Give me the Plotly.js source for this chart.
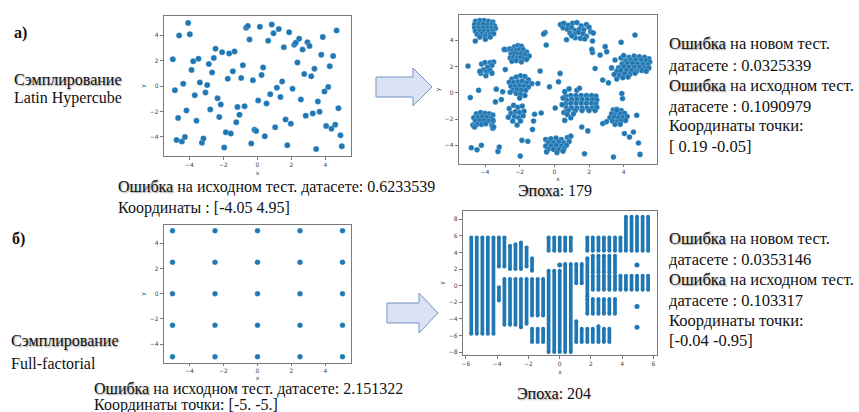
<!DOCTYPE html>
<html><head><meta charset="utf-8">
<script src="https://cdn.plot.ly/plotly-3.0.1.min.js"></script>
<style>html,body{margin:0;padding:0;background:#fff}#chart{width:859px;height:412px}</style>
</head><body><div id="chart"></div>
<script>
// ---------- DATA ----------
// a) Latin Hypercube initial sample (x, y)
const lhsPoints = [
[-4.98,2.10],[-4.86,-0.33],[-4.76,-4.24],[-4.61,3.96],[-4.67,-2.52],[-4.45,-4.37],[-4.37,0.17],[-4.27,-4.0],[-4.18,-1.92],[-4.08,4.95],
[-3.98,4.07],[-3.88,1.26],[-3.78,1.95],[-3.69,-0.72],[-3.59,-2.73],[-3.47,2.14],[-3.39,0.27],[-3.27,-4.45],[-3.18,-4.13],[-3.06,-0.51],
[-2.96,0.07],[-2.86,1.72],[-2.78,-1.84],[-2.67,1.07],[-2.57,2.2],[-2.47,2.93],[-2.35,-0.96],[-2.25,-2.44],[-2.16,-1.46],[-2.08,2.66],
[-1.96,-4.83],[-1.86,-3.64],[-1.75,0.56],[-1.67,2.56],[-1.57,-3.74],[-1.45,1.15],[-1.35,2.71],[-1.25,-2.85],[-1.18,-1.65],[-1.06,-2.26],
[-0.96,0.63],[-0.86,1.64],[-0.76,-1.59],[-0.67,4.57],[-0.57,4.72],[-0.47,3.65],[-0.37,-4.52],[-0.27,0.45],[-0.18,-3.43],[-0.08,-3.53],
[0.04,-1.13],[0.14,4.65],[0.24,0.87],[0.33,1.46],[0.43,-3.95],[0.53,-1.37],[0.63,3.55],[0.75,-0.64],[0.84,4.84],[0.94,4.14],
[1.04,-3.25],[1.14,-0.14],[1.25,4.47],[1.35,-0.87],[1.45,0.35],[1.55,3.05],[1.65,-2.64],[1.75,-4.65],[1.86,4.22],[1.96,-2.96],
[2.06,-0.22],[2.16,3.24],[2.25,3.39],[2.35,1.85],[2.45,3.72],[2.55,-1.07],[2.65,2.86],[2.75,0.94],[2.84,-2.33],[2.94,3.44],
[3.06,3.15],[3.16,0.76],[3.25,-2.16],[3.35,1.35],[3.45,-4.95],[3.55,-1.22],[3.65,-2.03],[3.75,2.45],[3.84,3.85],[3.94,-0.43],
[4.04,-3.15],[4.16,-0.07],[4.25,1.56],[4.35,-3.36],[4.45,2.35],[4.57,-3.04],[4.65,4.36],[4.76,-1.74],[4.88,-3.87],[4.96,-4.73]
];

// a) Epoch 179: dense clusters
const epoch179Clusters = [
[-4.55,5.45],[-4.3,5.5],[-4.05,5.5],[-3.8,5.45],[-3.55,5.4],[-4.6,5.2],[-4.35,5.2],[-4.1,5.25],[-3.85,5.2],[-3.6,5.2],[-3.45,5.1],
[-4.6,4.95],[-4.35,4.95],[-4.1,4.95],[-3.85,4.95],[-3.6,4.95],[-3.4,4.9],[-4.55,4.7],[-4.3,4.7],[-4.05,4.7],[-3.8,4.7],[-3.55,4.7],
[-4.45,4.45],[-4.2,4.45],[-3.95,4.45],[-3.7,4.45],[-3.5,4.5],[-4.3,4.25],[-4.0,4.3],[-3.7,4.25],
[-2.7,3.3],[-2.55,3.35],[-2.3,3.5],[-2.1,3.6],[-1.9,3.55],[-2.4,3.2],[-2.2,3.25],[-2.0,3.3],[-1.8,3.3],[-1.6,3.1],[-2.5,2.95],[-2.3,3.0],
[-2.1,2.95],[-1.9,3.0],[-1.7,2.9],[-1.45,2.8],[-2.55,2.65],[-2.35,2.7],[-2.15,2.65],[-1.95,2.7],[-1.75,2.6],[-2.45,2.4],[-2.2,2.45],[-1.9,2.35],[-1.6,2.55],
[-4.2,2.2],[-4.0,2.3],[-3.7,2.3],[-3.5,2.35],[-3.6,2.1],[-3.85,1.95],[-4.1,1.75],[-3.9,1.6],[-4.25,1.5],[-3.7,1.7],[-3.95,1.3],[-3.6,1.5],[-4.3,1.65],
[-2.45,1.05],[-2.2,1.2],[-1.95,1.3],[-1.7,1.25],[-1.5,1.0],[-2.6,0.8],[-2.35,0.8],[-2.1,0.85],[-1.85,0.9],[-1.6,0.75],[-1.3,0.7],[-2.5,0.5],
[-2.25,0.5],[-2.0,0.55],[-1.75,0.5],[-1.5,0.45],[-2.4,0.2],[-2.15,0.25],[-1.9,0.2],[-1.65,0.2],[-2.2,-0.05],[-1.95,-0.1],[-1.7,-0.2],[-2.0,-0.4],[-2.55,0.05],
[-4.5,-1.6],[-4.25,-1.5],[-4.0,-1.55],[-3.75,-1.6],[-3.55,-1.7],[-4.65,-1.9],[-4.4,-1.85],[-4.15,-1.8],[-3.9,-1.85],[-3.65,-1.95],[-4.55,-2.15],
[-4.3,-2.1],[-4.05,-2.1],[-3.8,-2.15],[-3.55,-2.2],[-4.7,-2.45],[-4.45,-2.4],[-4.2,-2.4],[-3.95,-2.35],[-3.6,-2.5],[-4.6,-2.6],[-3.55,-2.7],
[-2.6,-1.2],[-2.35,-0.95],[-2.1,-1.1],[-1.85,-1.0],[-2.5,-1.55],[-2.25,-1.45],[-2.0,-1.5],[-1.75,-1.4],[-2.65,-1.85],[-2.3,-1.8],[-2.05,-1.9],
[-1.8,-1.75],[-2.4,-2.15],[-2.15,-2.45],[-1.95,-2.15],
[-0.5,-3.55],[-0.2,-3.5],[0.1,-3.45],[0.4,-3.55],[0.75,-3.4],[0.95,-3.3],[-0.35,-3.8],[-0.05,-3.8],[0.25,-3.75],[0.55,-3.8],[0.85,-3.7],
[-0.5,-4.05],[-0.2,-4.05],[0.1,-4.0],[0.4,-4.05],[0.7,-4.0],[-0.35,-4.3],[-0.05,-4.3],[0.25,-4.3],[0.55,-4.25],[-0.45,-4.5],[0.15,-4.55],[0.5,-4.45],
[0.65,-0.25],[0.95,-0.2],[1.25,-0.2],[1.55,-0.2],[1.85,-0.2],[2.15,-0.2],[2.4,-0.25],[0.7,-0.55],[1.0,-0.5],[1.3,-0.5],[1.6,-0.5],[1.9,-0.5],
[2.2,-0.5],[2.45,-0.55],[0.65,-0.85],[0.95,-0.8],[1.25,-0.8],[1.55,-0.8],[1.85,-0.8],[2.15,-0.8],[2.4,-0.85],[0.7,-1.15],[1.0,-1.15],[1.3,-1.15],
[1.6,-1.15],[1.9,-1.15],[2.2,-1.15],[2.45,-1.1],[0.8,-1.35],[1.2,-1.35],[1.6,-1.35],[2.0,-1.35],[2.35,-1.35],
[0.6,0.1],[0.85,0.3],[1.3,0.2],[1.45,0.35],[0.5,-0.4],[0.55,-1.5],[0.75,-1.65],[0.95,-1.9],[0.6,-2.1],[1.1,-1.6],[0.45,-0.9],
[0.35,5.2],[0.55,5.3],[0.8,5.15],[1.05,5.3],[1.3,5.35],[1.55,5.1],[1.85,5.2],[2.0,5.0],[0.5,4.95],[0.75,4.85],[1.0,4.95],[1.2,4.75],
[1.45,4.85],[1.7,4.8],[2.1,4.65],[0.9,4.55],[1.15,4.45],[1.4,4.6],[1.65,4.5],[1.85,4.3],[2.25,4.55],[1.2,4.2],[1.5,4.15],[1.75,4.1],[0.7,4.05],[2.2,3.95],[1.0,4.35],
[4.3,2.7],[4.6,2.8],[4.9,2.75],[5.2,2.7],[5.45,2.6],[4.1,2.45],[4.4,2.5],[4.7,2.5],[5.0,2.5],[5.3,2.45],[5.5,2.35],[3.9,2.2],[4.2,2.25],
[4.5,2.25],[4.8,2.2],[5.1,2.2],[5.4,2.15],[3.7,1.9],[4.0,2.0],[4.3,1.95],[4.6,1.95],[4.9,1.95],[5.2,1.9],[5.45,1.9],[3.6,1.65],[3.85,1.7],
[4.15,1.7],[4.45,1.7],[4.75,1.65],[5.05,1.7],[5.3,1.65],[3.45,1.4],[3.75,1.35],[4.05,1.45],[4.35,1.4],[4.65,1.5],[3.95,1.15],[3.6,1.05],
[4.25,1.2],[3.3,1.9],[3.5,2.5],[3.85,2.65],[4.0,2.85],
[3.4,-1.3],[3.6,-1.25],[3.85,-1.35],[3.3,-1.6],[3.55,-1.55],[3.8,-1.6],[4.05,-1.55],[3.2,-1.9],[3.45,-1.85],[3.7,-1.9],[3.95,-1.85],
[4.2,-1.8],[3.35,-2.15],[3.6,-2.2],[3.85,-2.15],[4.1,-2.1],[3.5,-2.4],[3.8,-2.4],[3.0,-2.2]
];
// a) Epoch 179: scattered points
const epoch179Scattered = [
[-4.56,3.95],[-3.98,4.08],[-2.9,3.3],[-4.98,2.04],[-4.85,-0.36],[-4.37,0.2],[-3.4,-0.69],[-3.35,0.28],[-2.98,0.08],[-3.06,-0.51],
[-2.83,1.78],[-2.87,3.31],[-4.79,-4.18],[-4.46,-4.33],[-4.21,-4.0],[-3.25,-4.46],[-3.18,-4.13],[-3.5,-2.6],[-3.54,-2.09],[-1.87,-3.62],
[-1.53,-3.69],[-1.97,-4.82],[-1.14,-1.63],[-1.2,-2.14],[-1.26,-2.8],[-0.76,-1.53],[-0.82,1.66],[-0.95,0.71],[-0.28,0.46],[0.05,-1.15],
[0.24,0.84],[0.33,1.48],[-0.53,4.59],[-0.47,3.64],[-0.62,4.48],[1.74,-4.64],[1.58,-2.6],[1.93,-2.9],[2.35,1.86],[2.2,3.08],[2.16,3.31],
[2.64,2.88],[2.93,3.52],[3.02,3.13],[2.79,0.97],[3.12,0.76],[2.79,-2.34],[3.41,-4.89],[3.85,3.85],[4.65,4.41],[3.93,-0.43],[4.04,-3.1],
[4.33,-3.36],[4.56,-2.98],[4.75,-1.71],[4.85,-3.82],[4.94,-4.69],[3.89,-0.05],[3.6,-1.32]
];

// б) Full-factorial design levels
const ffLevels = [-5, -2.5, 0, 2.5, 5];

// б) Epoch 204: grid columns (x) and occupied y-intervals per column index
const gridColumnsX = [-5.66,-5.31,-4.95,-4.6,-4.24,-3.89,-3.54,-3.18,-2.83,-2.48,-2.12,-1.77,-1.41,-1.06,-0.71,-0.35,0,
  0.35,0.71,1.06,1.41,1.77,2.12,2.48,2.83,3.18,3.54,3.89,4.24,4.6,4.95,5.31,5.66];
const columnSegments = [
[0,-5.8,5.8],[1,-5.8,5.8],[2,-5.8,5.8],[3,-5.8,5.8],[4,-5.8,5.8],
[5,2.3,5.8],[5,-1.8,-0.2],
[6,2.3,5.8],[6,-4.7,0.8],
[7,2.0,4.8],[7,-4.7,0.8],
[8,2.0,5.0],[8,-4.7,0.8],
[9,2.0,5.2],[9,-5.0,0.8],
[10,2.3,4.6],[10,-4.6,0.8],
[11,1.8,3.3],[11,-3.6,0.8],[11,-6.8,-5.2],
[12,-3.6,0.8],[12,-6.8,-5.2],
[13,-3.6,0.8],[13,-6.8,-5.2],
[14,4.2,5.8],[14,-8.0,1.8],
[15,4.2,5.8],[15,-8.0,1.8],
[16,4.2,5.8],[16,-8.0,1.8],
[17,4.2,5.8],[17,-8.0,2.6],
[18,4.2,5.8],[18,-8.0,2.6],
[19,0.3,2.6],[19,-6.8,-4.3],
[20,0.3,2.6],[20,-6.8,-5.2],
[21,4.2,5.8],[21,-1.3,3.3],[21,-3.4,-1.6],[21,-6.8,-5.2],
[22,4.2,5.8],[22,1.6,3.6],[22,-0.5,1.2],[22,-3.4,-1.6],[22,-6.8,-5.2],
[23,4.2,5.8],[23,1.6,3.6],[23,-0.5,1.2],[23,-3.4,-1.6],[23,-6.8,-4.9],
[24,4.2,5.8],[24,1.6,3.6],[24,-0.5,1.2],[24,-3.4,-1.6],[24,-6.8,-5.2],
[25,4.2,5.8],[25,1.6,3.6],[25,-0.5,1.2],[25,-3.4,-1.6],[25,-6.8,-5.2],
[26,4.2,5.8],[26,1.6,3.6],[26,-0.5,1.2],[26,-3.4,-1.6],
[27,4.2,5.8],[27,-0.5,1.2],
[28,4.2,8.3],[28,-0.5,1.2],
[29,4.2,8.3],[29,-0.5,1.2],
[30,4.2,8.3],[30,-0.5,1.2],
[31,4.2,8.3],[31,-0.5,1.2],
[32,4.2,8.3],[32,-0.5,1.2]
];
const epoch204Isolated = [[0,2.5],[4.95,2.5],[4.95,-2.5],[4.95,-5.0]];

// ---------- BUILD ----------
const W = 859, H = 412;
const BLUE = '#1f77b4';
const px = v => v / W, py = v => 1 - v / H;
const SERIF = '"Liberation Serif", "Times New Roman", Times, serif';
const SANS = '"DejaVu Sans", sans-serif';

function axis(d0, d1, range, tickvals, anchor, title, isX, standoff, ticklen) {
  return {
    domain: isX ? [px(d0), px(d1)] : [py(d1), py(d0)],
    range: range, tickvals: tickvals, anchor: anchor,
    ticks: 'outside', ticklen: ticklen || 3, tickwidth: 0.8, tickcolor: '#555',
    showline: true, linecolor: '#7a7a7a', linewidth: 1.2, mirror: true,
    showgrid: false, zeroline: false,
    tickfont: {family: SANS, size: 6, color: '#444'},
    title: {text: title, font: {family: SANS, size: 6, color: '#444'}, standoff: standoff === undefined ? 3 : standoff},
    fixedrange: true
  };
}

const mk = (size) => ({color: BLUE, size: size, line: {color: 'rgba(255,255,255,0.55)', width: 0.4}});

const traces = [];
traces.push({type: 'scatter', mode: 'markers', xaxis: 'x', yaxis: 'y',
  x: lhsPoints.map(p => p[0]), y: lhsPoints.map(p => p[1]), marker: mk(6)});
const e179 = epoch179Clusters.concat(epoch179Scattered);
traces.push({type: 'scatter', mode: 'markers', xaxis: 'x2', yaxis: 'y2',
  x: e179.map(p => p[0]), y: e179.map(p => p[1]), marker: mk(5.6)});
const ffx = [], ffy = [];
ffLevels.forEach(a => ffLevels.forEach(b => { ffx.push(a); ffy.push(b); }));
traces.push({type: 'scatter', mode: 'markers', xaxis: 'x3', yaxis: 'y3', x: ffx, y: ffy, marker: mk(5.5)});
const sx = [], sy = [];
columnSegments.forEach(s => { const cx = gridColumnsX[s[0]]; sx.push(cx, cx, null); sy.push(s[1], s[2], null); });
traces.push({type: 'scatter', mode: 'lines+markers', xaxis: 'x4', yaxis: 'y4', x: sx, y: sy,
  line: {color: BLUE, width: 3.7}, marker: {color: BLUE, size: 4}, connectgaps: false});
traces.push({type: 'scatter', mode: 'markers', xaxis: 'x4', yaxis: 'y4',
  x: epoch204Isolated.map(p => p[0]), y: epoch204Isolated.map(p => p[1]), marker: {color: BLUE, size: 5}});

const SH = t => '<span style="text-shadow:1px 1px 1.5px #999">' + t + '</span>';
const anns = [];
function T(text, x, y, size, xa, bold) {
  anns.push({text: bold ? '<b>' + text + '</b>' : text, xref: 'paper', yref: 'paper', x: px(x), y: py(y),
    xanchor: xa || 'left', yanchor: 'middle', showarrow: false, borderpad: 0,
    font: {family: SERIF, size: size, color: '#111'}});
}
const S1 = 16, S2 = 16.5;
T('а)', 13, 33, 16, 'left', true);
T(SH('Сэмплирование'), 13, 80, S1);
T('Latin Hypercube', 13, 98, S1);
T(SH('Ошибка') + ' на исходном тест. датасете: 0.6233539', 117, 187, S1);
T('Координаты : [-4.05 4.95]', 117, 208, S1);
T(SH('Эпоха') + ': 179', 555, 190, S1, 'center');
T(SH('Ошибка') + ' на новом тест.', 668, 44, S2);
T('датасете : 0.0325339', 668, 65, S2);
T(SH('Ошибка') + ' на исходном тест.', 668, 85, S2);
T('датасете : 0.1090979', 668, 106, S2);
T('Координаты точки:', 668, 126, S2);
T('[ 0.19 -0.05]', 668, 146, S2);
T('б)', 11, 239, 16, 'left', true);
T(SH('Сэмплирование'), 10, 341, S1);
T('Full-factorial', 10, 363, S1);
T(SH('Ошибка') + ' на исходном тест. датасете: 2.151322', 93, 388.5, S1);
T('Координаты точки: [-5. -5.]', 93, 404.5, S1);
T(SH('Эпоха') + ': 204', 554, 393, S1, 'center');
T(SH('Ошибка') + ' на новом тест.', 668, 239, S2);
T('датасете : 0.0353146', 668, 259, S2);
T(SH('Ошибка') + ' на исходном тест.', 668, 279, S2);
T('датасете : 0.103317', 668, 300, S2);
T('Координаты точки:', 668, 320, S2);
T('[-0.04 -0.95]', 668, 340, S2);

function arrowPath(x0, x1, xh, yc, bh, hh) {
  const P = (x, y) => px(x).toFixed(5) + ',' + py(y).toFixed(5);
  return 'M' + P(x0, yc - bh) + ' L' + P(xh, yc - bh) + ' L' + P(xh, yc - hh) + ' L' + P(x1, yc) +
    ' L' + P(xh, yc + hh) + ' L' + P(xh, yc + bh) + ' L' + P(x0, yc + bh) + ' Z';
}
const shapes = [
  {type: 'path', xref: 'paper', yref: 'paper', path: arrowPath(376, 432, 413, 87, 10, 19),
   fillcolor: '#dae3f3', line: {color: '#7393c4', width: 1}},
  {type: 'path', xref: 'paper', yref: 'paper', path: arrowPath(387, 438, 419, 313, 10, 20),
   fillcolor: '#dae3f3', line: {color: '#7393c4', width: 1}}
];

const ticks5 = [-4, -2, 0, 2, 4];
const layout = {
  width: W, height: H, margin: {l: 0, r: 0, t: 0, b: 0},
  paper_bgcolor: '#fff', plot_bgcolor: '#fff', showlegend: false,
  font: {family: SERIF},
  xaxis:  axis(164, 351, [-5.5, 5.5], ticks5, 'y', 'x', true),
  yaxis:  axis(16, 156, [-5.5, 5.5], ticks5, 'x', 'y', false),
  xaxis2: axis(459, 657, [-5.5, 5.92], ticks5, 'y2', 'x', true, 0, 2),
  yaxis2: axis(15, 164, [-5.42, 5.93], ticks5, 'x2', 'y', false),
  xaxis3: axis(164, 351, [-5.5, 5.5], ticks5, 'y3', 'x', true, 0, 2),
  yaxis3: axis(225, 363, [-5.5, 5.46], ticks5, 'x3', 'y', false),
  xaxis4: axis(463, 657, [-6.19, 6.23], [-6, -4, -2, 0, 2, 4, 6], 'y4', 'x', true),
  yaxis4: axis(211, 355, [-8.36, 9.0], [-8, -6, -4, -2, 0, 2, 4, 6, 8], 'x4', 'y', false),
  annotations: anns, shapes: shapes
};

Plotly.newPlot('chart', traces, layout, {staticPlot: true, displayModeBar: false});
</script></body></html>
